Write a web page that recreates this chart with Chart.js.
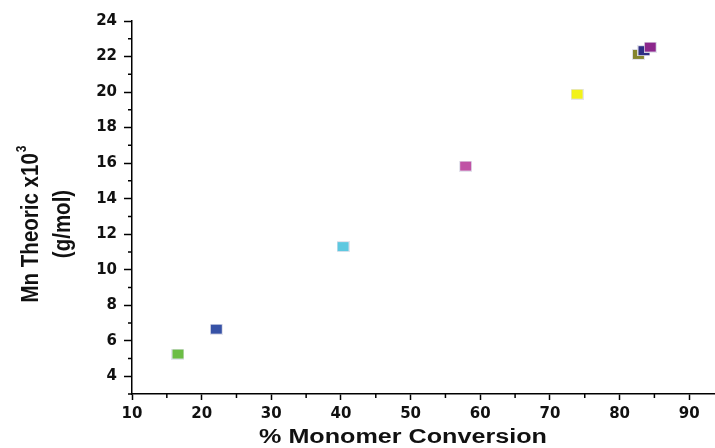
<!DOCTYPE html>
<html>
<head>
<meta charset="utf-8">
<script src="https://cdn.jsdelivr.net/npm/chart.js@4"></script>
<style>
  html, body { margin: 0; padding: 0; background: #fff; }
  #wrap { width: 715px; height: 448px; }
</style>
</head>
<body>
<div id="wrap"><canvas id="myChart" width="715" height="448"></canvas></div>
<script>
// data
var conversion = [16.6, 22.1, 40.3, 57.9, 73.9, 82.7, 83.5, 84.4];
var mnTheoric = [5.25, 6.65, 11.3, 15.83, 19.88, 22.12, 22.33, 22.53];
var pointColors = ['#6cbd45', '#3752a6', '#5ec8e0', '#c052a5', '#f2f21a', '#85852e', '#2e2e85', '#8c278c'];
var xTicks = [10, 20, 30, 40, 50, 60, 70, 80, 90];
var yTicks = [4, 6, 8, 10, 12, 14, 16, 18, 20, 22, 24];
var xTitle = '% Monomer Conversion';
var yTitle = ['Mn Theoric x10', '3', '(g/mol)'];

function makeMarker(color){
    var c = document.createElement('canvas');
    c.width = 13; c.height = 11;
    var g = c.getContext('2d');
    g.fillStyle = 'rgba(225,225,235,0.9)';
    g.fillRect(0, 0, 13, 11);
    g.fillStyle = color;
    g.fillRect(1, 1, 11, 9);
    return c;
}

var minorTicks = {
    id: 'minorTicks',
    afterDraw: function(chart){
        var ctx = chart.ctx, xs = chart.scales.x, ys = chart.scales.y;
        ctx.save();
        ctx.strokeStyle = '#000';
        ctx.lineWidth = 1.5;
        ctx.beginPath();
        for (var v = 15; v < xs.max; v += 10) {
            var px = xs.getPixelForValue(v);
            ctx.moveTo(px, xs.top);
            ctx.lineTo(px, xs.top + 4);
        }
        for (var w = 3; w < ys.max; w += 2) {
            var py = ys.getPixelForValue(w);
            ctx.moveTo(ys.right, py);
            ctx.lineTo(ys.right - 4, py);
        }
        ctx.stroke();
        ctx.restore();
    }
};

// axis titles, drawn a little wider than the font like in the original
var axisTitles = {
    id: 'axisTitles',
    afterDraw: function(chart){
        var ctx = chart.ctx;
        ctx.save();
        ctx.fillStyle = '#111';
        ctx.textBaseline = 'alphabetic';

        // x title
        ctx.save();
        ctx.translate(403, 443);
        ctx.scale(1.29, 1);
        ctx.font = 'bold 19.5px "Liberation Sans", Arial, sans-serif';
        ctx.textAlign = 'center';
        ctx.fillText(xTitle, 0, 0);
        ctx.restore();

        // y title, two lines rotated
        ctx.save();
        ctx.translate(38, 224);
        ctx.rotate(-Math.PI / 2);
        ctx.scale(1, 1.2);
        ctx.font = 'bold 20.5px "Liberation Sans", Arial, sans-serif';
        var w1 = ctx.measureText(yTitle[0]).width;
        ctx.font = 'bold 12px "Liberation Sans", Arial, sans-serif';
        var w2 = ctx.measureText(yTitle[1]).width;
        var start = -(w1 + w2 + 1) / 2;
        ctx.textAlign = 'left';
        ctx.font = 'bold 20.5px "Liberation Sans", Arial, sans-serif';
        ctx.fillText(yTitle[0], start, 0);
        ctx.font = 'bold 12px "Liberation Sans", Arial, sans-serif';
        ctx.fillText(yTitle[1], start + w1 + 1, -10);
        ctx.textAlign = 'center';
        ctx.font = 'bold 20.5px "Liberation Sans", Arial, sans-serif';
        ctx.fillText(yTitle[2], 0, 27);
        ctx.restore();

        ctx.restore();
    }
};

window.onload = function(){
    var ctx = document.getElementById('myChart').getContext('2d');
    var pts = conversion.map(function(x, i){ return {x: x, y: mnTheoric[i]}; });
    window.myChart = new Chart(ctx, {
        type: 'scatter',
        data: {
            datasets: [{
                data: pts,
                pointStyle: pointColors.map(makeMarker),
                pointRadius: 6
            }]
        },
        options: {
            responsive: false,
            animation: false,
            layout: { autoPadding: false, padding: { top: 21, right: 0, left: 0, bottom: 0 } },
            plugins: {
                legend: { display: false },
                tooltip: { enabled: false }
            },
            scales: {
                x: {
                    type: 'linear',
                    min: 10,
                    max: 93.7,
                    afterFit: function(s){ s.height = 54; s.paddingLeft = 0; s.paddingRight = 0; },
                    border: { color: '#000', width: 1.5 },
                    grid: { drawOnChartArea: false, tickLength: 6, tickColor: '#000', tickWidth: 1.5 },
                    ticks: {
                        stepSize: 10,
                        includeBounds: false,
                        color: '#111',
                        padding: 5,
                        maxRotation: 0,
                        font: { family: 'DejaVu Sans', size: 15, weight: 'bold' },
                        callback: function(v){ return xTicks.indexOf(v) >= 0 ? v : ''; }
                    }
                },
                y: {
                    min: 3,
                    max: 24,
                    afterFit: function(s){ s.width = 132; s.paddingTop = 0; s.paddingBottom = 0; },
                    border: { color: '#000', width: 1.5 },
                    grid: { drawOnChartArea: false, tickLength: 8, tickColor: '#000', tickWidth: 1.5 },
                    ticks: {
                        stepSize: 2,
                        includeBounds: false,
                        color: '#111',
                        padding: 7,
                        font: { family: 'DejaVu Sans', size: 15, weight: 'bold' },
                        callback: function(v){ return yTicks.indexOf(v) >= 0 ? v : ''; }
                    }
                }
            }
        },
        plugins: [minorTicks, axisTitles]
    });
};
</script>
</body>
</html>
